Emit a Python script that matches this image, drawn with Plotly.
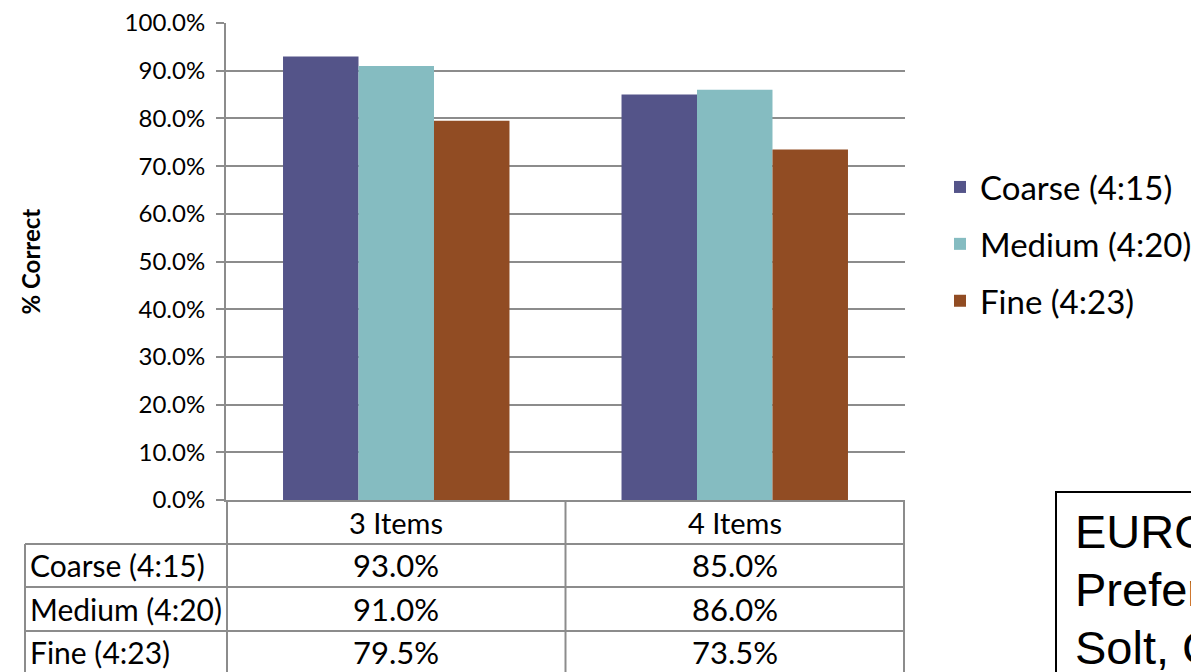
import plotly.graph_objects as go

categories = ["3 Items", "4 Items"]
series_names = ["Coarse (4:15)", "Medium (4:20)", "Fine (4:23)"]
coarse = [93.0, 85.0]
medium = [91.0, 86.0]
fine = [79.5, 73.5]
series_values = [coarse, medium, fine]
colors = ["#545489", "#85BCC1", "#914C23"]
y_ticks = [0, 10, 20, 30, 40, 50, 60, 70, 80, 90, 100]
note_lines = ["EUROC", "Prefer", "Solt, C"]

OFF = 8  # page body margin
W, H = 1199 - OFF, 672 - OFF
# layout expressed in screen pixels
L, R, T, B = 226, 905, 23, 500
PW, PH = R - L, B - T
FONT = "Lato"
GRID = "#8c8c8c"


def px2x(px):
    return (px - L) / PW


def py2y(py):
    return (B - py) / PH


fig = go.Figure()
for name, vals, col in zip(series_names, series_values, colors):
    fig.add_trace(go.Bar(
        x=categories, y=vals, name=name, legendgroup=name,
        marker=dict(color=col, line=dict(width=0)),
    ))

shapes = []
annotations = []

# table grid lines
row_lines_py = [544, 587, 631, 674]
for py in row_lines_py:
    shapes.append(dict(type="line", xref="paper", yref="paper",
                       x0=px2x(25), x1=1, y0=py2y(py), y1=py2y(py),
                       line=dict(color=GRID, width=2)))
for xv in [-0.5, 0.5, 1.5]:
    shapes.append(dict(type="line", xref="x", yref="paper",
                       x0=xv, x1=xv, y0=0, y1=py2y(700),
                       line=dict(color=GRID, width=2)))
shapes.append(dict(type="line", xref="paper", yref="paper",
                   x0=px2x(25), x1=px2x(25), y0=py2y(544), y1=py2y(700),
                   line=dict(color=GRID, width=2)))

TFS = 30
# header row (category names)
for cat in categories:
    annotations.append(dict(xref="x", yref="paper", x=cat, y=py2y(522),
                            xanchor="center", yanchor="middle", showarrow=False,
                            text=cat, font=dict(family=FONT, size=TFS - 1, color="black")))

row_centers = [565, 608.5, 652]
for name, vals, yc in zip(series_names, series_values, row_centers):
    annotations.append(dict(xref="paper", yref="paper", x=px2x(28), y=py2y(yc),
                            xanchor="left", yanchor="middle", showarrow=False,
                            text=name, font=dict(family=FONT, size=TFS, color="black")))
    for cat, v in zip(categories, vals):
        annotations.append(dict(xref="x", yref="paper", x=cat, y=py2y(yc),
                                xanchor="center", yanchor="middle", showarrow=False,
                                text=f"{v:.1f}%", font=dict(family=FONT, size=TFS + 1, color="black")))

# y-axis title
annotations.append(dict(xref="paper", yref="paper", x=px2x(30), y=0.5,
                        xanchor="center", yanchor="middle", showarrow=False,
                        textangle=-90, text="<b>% Correct</b>",
                        font=dict(family=FONT, size=24, color="black")))

# note box (cut off by the page edge, as in the original)
shapes.append(dict(type="rect", xref="paper", yref="paper",
                   x0=px2x(1056), x1=px2x(1300), y0=py2y(492), y1=py2y(760),
                   line=dict(color="black", width=2), fillcolor="rgba(0,0,0,0)"))
for i, line in enumerate(note_lines):
    annotations.append(dict(xref="paper", yref="paper", x=px2x(1073), y=py2y(531 + 58 * i),
                            xanchor="left", yanchor="middle", showarrow=False, align="left",
                            text=line,
                            font=dict(family="Liberation Sans, Arial", size=47, color="black")))

fig.update_layout(
    width=W, height=H,
    margin=dict(l=L - OFF, r=W - (R - OFF), t=T - OFF, b=H - (B - OFF), autoexpand=False),
    paper_bgcolor="white", plot_bgcolor="white",
    barmode="group", bargap=0.331, bargroupgap=0,
    font=dict(family=FONT, color="black"),
    showlegend=True,
    legend=dict(x=px2x(940), y=py2y(159), xanchor="left", yanchor="top",
                font=dict(family=FONT, size=33, color="black"),
                traceorder="grouped", tracegroupgap=11,
                bgcolor="rgba(0,0,0,0)"),
    shapes=shapes,
    annotations=annotations,
)
fig.update_xaxes(showgrid=False, showline=True, linecolor=GRID, linewidth=2,
                 ticks="", showticklabels=False)
fig.update_yaxes(range=[0, 100], tickvals=y_ticks,
                 ticktext=[f"{v:.1f}%" for v in y_ticks],
                 showgrid=True, gridcolor=GRID, gridwidth=2,
                 showline=True, linecolor=GRID, linewidth=2,
                 ticks="outside", ticklen=8, tickcolor=GRID, tickwidth=2,
                 ticklabelstandoff=6, zeroline=False, ticklabeloverflow="allow",
                 tickfont=dict(family=FONT, size=24, color="black"))

fig.write_html("out.html")
